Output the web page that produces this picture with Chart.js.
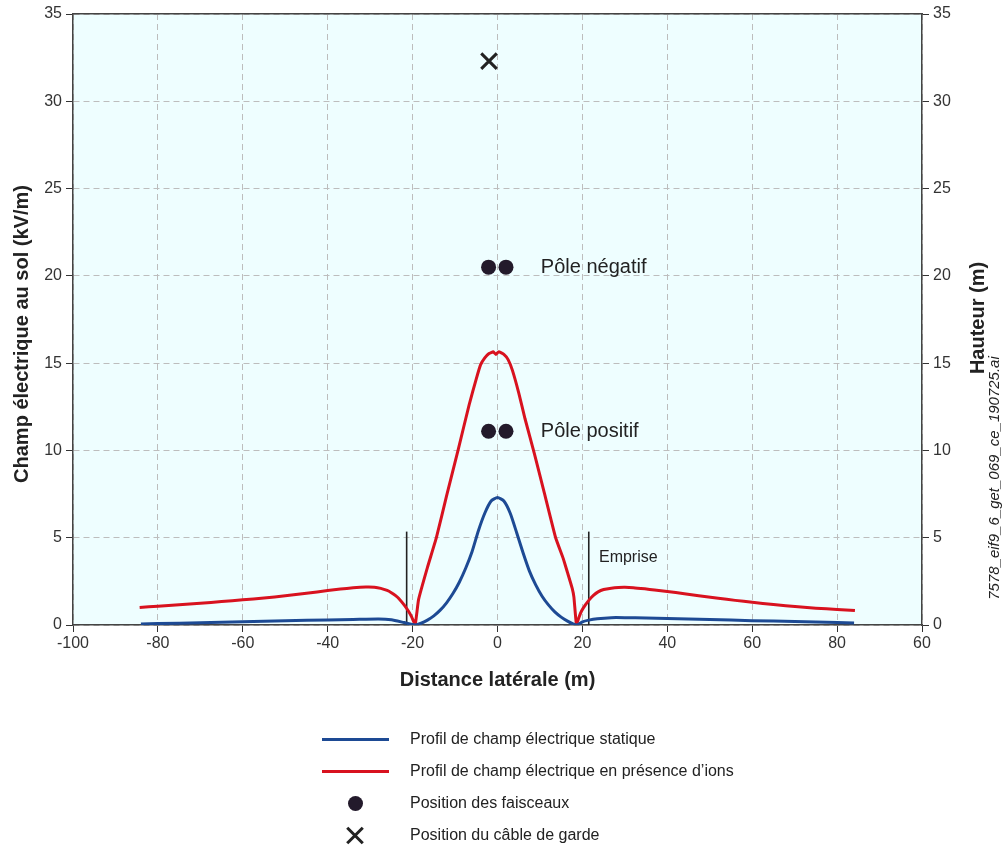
<!DOCTYPE html>
<html><head><meta charset="utf-8">
<script src="https://cdn.jsdelivr.net/npm/chart.js@4.4.1/dist/chart.umd.min.js"></script>
<style>
html,body{margin:0;padding:0;background:#fff;}
#wrap{position:relative;width:1005px;height:848px;overflow:hidden;}
#c{position:absolute;left:0;top:0;}
.lg{position:absolute;font-family:"Liberation Sans",Arial,sans-serif;font-size:16px;color:#222;line-height:20px;white-space:nowrap;}
.sw{position:absolute;}
</style></head><body>
<div id="wrap"><canvas id="c" width="1005" height="848"></canvas><div id="legend"></div></div>
<script>
// ---- data ----
const xTickLabels = ['-100','-80','-60','-40','-20','0','20','40','60','80','60'];
const yTickLabels = ['0','5','10','15','20','25','30','35'];

const staticX = [-84,-80,-70,-60,-50,-40,-34,-28,-25,-22,-19.4,-18,-16.5,-15,-13.5,-12,-10.5,-9,-7.5,-6,-4.5,-3,-1.5,0,1.5,3,4.5,6,7.5,9,10.5,12,13.5,15,16.5,17.8,18.7,20,21.5,23.5,26.8,30,35,40,50,60,70,80,84];
const staticE = [0.06,0.08,0.13,0.19,0.24,0.29,0.32,0.35,0.30,0.14,0,0.1,0.28,0.52,0.85,1.27,1.8,2.45,3.25,4.2,5.4,6.4,7.1,7.3,7.1,6.4,5.3,4.15,3.1,2.3,1.65,1.15,0.75,0.45,0.22,0.06,0,0.18,0.28,0.36,0.42,0.42,0.40,0.37,0.31,0.25,0.2,0.15,0.12];

const ionsX = [-84.3,-80,-75,-70,-65,-60,-55,-50,-45,-40,-37,-34,-31,-29,-27.5,-26,-25,-24,-23,-22,-21,-20.2,-19.4,-18.6,-16.5,-14.4,-12,-9.3,-6.7,-5,-4,-3,-2,-1,-0.4,0.3,1.5,2.5,3.5,5,6.5,8.7,11,13.7,15.5,16.5,17.6,18.0,18.6,19.2,19.8,20.7,21.6,22.6,23.7,25,26.8,28.5,30,32,34.7,37,40,44,47.4,52,56,60,65,70.8,75,80,84.2];
const ionsE = [1.0,1.08,1.16,1.25,1.34,1.44,1.55,1.67,1.82,1.97,2.06,2.13,2.17,2.16,2.1,1.98,1.85,1.68,1.45,1.15,0.8,0.45,0,1.45,3.3,5.0,7.4,10.0,12.6,14.1,14.9,15.3,15.55,15.65,15.5,15.65,15.5,15.2,14.6,13.3,11.8,9.8,7.6,5.0,3.8,3.0,2.1,1.6,0,0.45,0.8,1.15,1.44,1.7,1.9,2.03,2.11,2.15,2.16,2.14,2.07,2.0,1.92,1.79,1.67,1.53,1.41,1.3,1.17,1.04,0.96,0.89,0.83];

const faisceauxX = [-2.1, 2.0, -2.1, 2.0];
const faisceauxH = [20.5, 20.5, 11.1, 11.1];
const cableX = [-2.0];
const cableH = [32.3];
const empriseX = [-21.4, 21.5];
const empriseH = 5.35;

const legendLabels = [
  'Profil de champ électrique statique',
  'Profil de champ électrique en présence d\u2019ions',
  'Position des faisceaux',
  'Position du câble de garde'
];
const annotations = [
  {text:'Pôle négatif', x:10.2, y:20.5, font:'20px "Liberation Sans", Arial, sans-serif'},
  {text:'Pôle positif', x:10.2, y:11.1, font:'20px "Liberation Sans", Arial, sans-serif'},
  {text:'Emprise', x:23.9, y:3.85, font:'16px "Liberation Sans", Arial, sans-serif'}
];
const yTitle = 'Champ électrique au sol (kV/m)';
const y2Title = 'Hauteur (m)';
const xTitle = 'Distance latérale (m)';
const fileTag = '7578_eif9_6_get_069_ce_190725.ai';

// ---- styles ----
const BLUE = '#1d4a94', RED = '#d8121f', DOT = '#231a2b';
const FONT = '"Liberation Sans", Arial, sans-serif';
const zip = (xs, ys) => xs.map((x, i) => ({x, y: ys[i]}));

const deco = {
  id: 'deco',
  beforeDraw(chart) {
    const {ctx, chartArea: a} = chart;
    ctx.save();
    ctx.fillStyle = '#eefeff';
    ctx.fillRect(a.left, a.top, a.right - a.left, a.bottom - a.top);
    ctx.restore();
  },
  afterDraw(chart) {
    const {ctx, scales: {x, y}} = chart;
    ctx.save();
    ctx.fillStyle = '#222';
    ctx.textBaseline = 'middle';
    ctx.textAlign = 'left';
    annotations.forEach(a => {
      ctx.font = a.font;
      ctx.fillText(a.text, x.getPixelForValue(a.x), y.getPixelForValue(a.y));
    });
    const rot = [
      {text: yTitle, px: 22, py: 334, font: 'bold 20px ' + FONT},
      {text: y2Title, px: 978, py: 318, font: 'bold 20px ' + FONT},
      {text: fileTag, px: 995, py: 478, font: 'italic 15px ' + FONT}
    ];
    rot.forEach(r => {
      ctx.save();
      ctx.translate(r.px, r.py);
      ctx.rotate(-Math.PI / 2);
      ctx.font = r.font;
      ctx.textAlign = 'center';
      ctx.fillText(r.text, 0, 0);
      ctx.restore();
    });
    ctx.restore();
  }
};

const datasets = [
  {label: legendLabels[0], data: zip(staticX, staticE), borderColor: BLUE, borderWidth: 3, pointRadius: 0, showLine: true, tension: 0.2, fill: false},
  {label: legendLabels[1], data: zip(ionsX, ionsE), borderColor: RED, borderWidth: 3, pointRadius: 0, showLine: true, tension: 0.12, fill: false},
  {label: 'Emprise G', data: [{x: empriseX[0], y: 0}, {x: empriseX[0], y: empriseH}], borderColor: '#222', borderWidth: 1.6, pointRadius: 0, showLine: true},
  {label: 'Emprise D', data: [{x: empriseX[1], y: 0}, {x: empriseX[1], y: empriseH}], borderColor: '#222', borderWidth: 1.6, pointRadius: 0, showLine: true},
  {label: legendLabels[2], data: zip(faisceauxX, faisceauxH), yAxisID: 'y2', showLine: false, pointRadius: 7.5, pointStyle: 'circle', backgroundColor: DOT, borderColor: DOT, borderWidth: 0},
  {label: legendLabels[3], data: zip(cableX, cableH), yAxisID: 'y2', showLine: false, pointRadius: 11, pointStyle: 'crossRot', borderColor: '#222', borderWidth: 3}
];

const tickFont = {family: FONT, size: 16};
new Chart(document.getElementById('c'), {
  type: 'scatter',
  data: {datasets},
  plugins: [deco],
  options: {
    responsive: false,
    animation: false,
    devicePixelRatio: 1,
    layout: {padding: {left: 0, right: 0, top: 14, bottom: 152}},
    plugins: {legend: {display: false}, tooltip: {enabled: false}},
    scales: {
      x: {
        type: 'linear', position: 'bottom', min: -100, max: 100,
        afterBuildTicks: s => { s.ticks = xTickLabels.map((_, i) => ({value: -100 + 20 * i})); },
        afterFit: s => { s.height = 71; },
        ticks: {font: tickFont, color: '#333', padding: 2, maxRotation: 0, autoSkip: false,
                callback: (v, i) => xTickLabels[i]},
        grid: {color: '#bdbdbd', tickColor: '#333', tickLength: 7, lineWidth: 1},
        border: {color: '#444', width: 1.5, dash: [6, 4]},
        title: {display: true, text: xTitle, font: {family: FONT, size: 20, weight: 'bold'}, color: '#222', padding: {top: 4, bottom: 4}}
      },
      xTop: {
        type: 'linear', position: 'top', min: -100, max: 100,
        afterFit: s => { s.height = 0; },
        ticks: {display: false},
        grid: {display: true, drawOnChartArea: false, drawTicks: false},
        border: {color: '#444', width: 1.5}
      },
      y: {
        type: 'linear', position: 'left', min: 0, max: 35,
        afterBuildTicks: s => { s.ticks = yTickLabels.map((_, i) => ({value: 5 * i})); },
        afterFit: s => { s.width = 73; },
        ticks: {font: tickFont, color: '#333', padding: 4, callback: (v, i) => yTickLabels[i]},
        grid: {color: '#bdbdbd', tickColor: '#333', tickLength: 7, lineWidth: 1},
        border: {color: '#444', width: 1.5, dash: [6, 4]}
      },
      y2: {
        type: 'linear', position: 'right', min: 0, max: 35,
        afterBuildTicks: s => { s.ticks = yTickLabels.map((_, i) => ({value: 5 * i})); },
        afterFit: s => { s.width = 83; },
        ticks: {font: tickFont, color: '#333', padding: 4, callback: (v, i) => yTickLabels[i]},
        grid: {display: true, drawOnChartArea: false, tickColor: '#333', tickLength: 7},
        border: {color: '#444', width: 1.5}
      }
    }
  }
});

// ---- legend (HTML) ----
const lg = document.getElementById('legend');
const rowsY = [739, 771, 803, 835];
legendLabels.forEach((t, i) => {
  const d = document.createElement('div');
  d.className = 'lg';
  d.textContent = t;
  d.style.left = '410px';
  d.style.top = (rowsY[i] - 10) + 'px';
  lg.appendChild(d);
});
function sw(css) { const d = document.createElement('div'); d.className = 'sw'; Object.assign(d.style, css); lg.appendChild(d); return d; }
sw({left: '322px', top: (rowsY[0] - 1.5) + 'px', width: '67px', height: '3px', background: BLUE});
sw({left: '322px', top: (rowsY[1] - 1.5) + 'px', width: '67px', height: '3px', background: RED});
sw({left: '347.5px', top: (rowsY[2] - 7.5) + 'px', width: '15px', height: '15px', borderRadius: '50%', background: DOT});
[45, -45].forEach(a => sw({left: '344px', top: (rowsY[3] - 1.5) + 'px', width: '22px', height: '3px', background: '#222', transform: 'rotate(' + a + 'deg)'}));
</script>
</body></html>
